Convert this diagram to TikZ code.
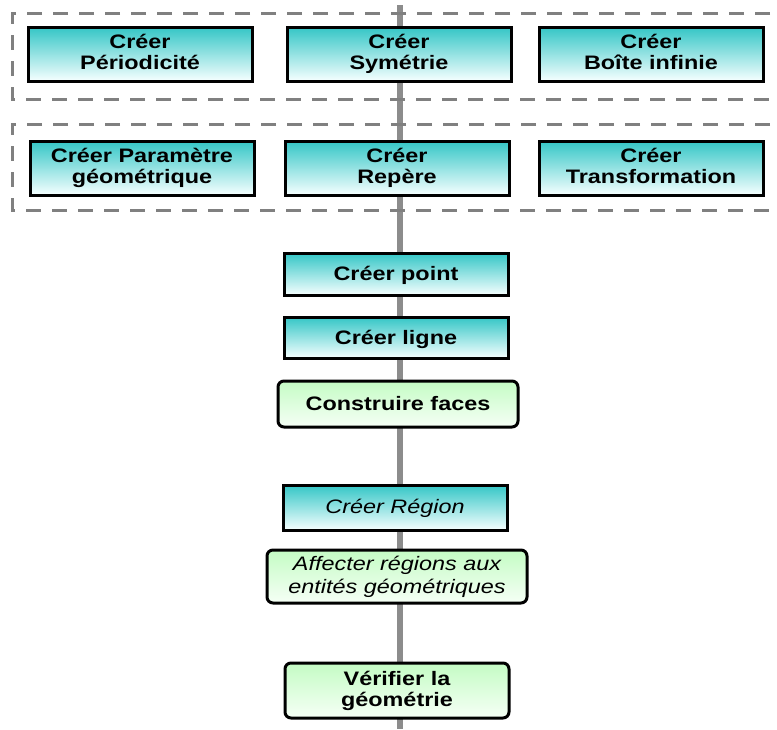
\documentclass[tikz,border=0pt]{standalone}
\usepackage{fontspec}
\setmainfont{Liberation Sans}[FakeStretch=1.2]
\begin{document}
\begin{tikzpicture}[x=1pt,y=-1pt,
  base/.style={draw=black,line width=3pt,align=center,inner sep=0pt,
    font=\fontsize{19.5}{21}\selectfont\bfseries,
    execute at begin node=\vphantom{É},execute at end node=\vphantom{gy}},
  tealbox/.style={base,rectangle,minimum width=224pt,minimum height=54pt,
    top color=tealtop,bottom color=tealbot},
  greenbox/.style={base,rectangle,rounded corners=6pt,
    top color=greentop,bottom color=greenbot},
  itext/.style={font=\fontsize{19.5}{23}\selectfont\mdseries\itshape},
  groupline/.style={draw=dashgray,line width=3pt,dash pattern=on 15pt off 11pt},
  spine/.style={draw=spinegray,line width=5.5pt}
]
\definecolor{tealtop}{HTML}{34C6C6}
\definecolor{tealbot}{HTML}{F6FFFF}
\definecolor{greentop}{HTML}{C4FCC4}
\definecolor{greenbot}{HTML}{F6FFF6}
\definecolor{dashgray}{HTML}{808080}
\definecolor{spinegray}{HTML}{8C8C8C}
\useasboundingbox (0,0) rectangle (777,729);

% spine
\coordinate (stop) at (400,5);
\coordinate (sbot) at (400,729);
\draw[spine] (stop) -- (sbot);

% dashed groups
\draw[groupline] (770,13) -- (12,13) -- (12,99) -- (770,99);
\draw[groupline] (770,124) -- (12,124) -- (12,210) -- (770,210);

% row 1
\node[tealbox] (per) at (140,54) {Créer\\Périodicité};
\node[tealbox] (sym) at (399,54) {Créer\\Symétrie};
\node[tealbox] (boi) at (651,54) {Créer\\Boîte infinie};
% row 2
\node[tealbox] (par) at (142,168) {Créer Paramètre\\géométrique};
\node[tealbox] (rep) at (397,168) {Créer\\Repère};
\node[tealbox] (tra) at (651,168) {Créer\\Transformation};

% chain
\node[tealbox,minimum height=42pt] (pt) at (396,274) {Créer point};
\node[tealbox,minimum height=41pt] (li) at (396,337.5) {Créer ligne};
\node[greenbox,minimum width=240pt,minimum height=46pt] (cf) at (398,404) {Construire faces};
\node[tealbox,minimum height=45pt,itext] (cr) at (395,507.5) {Créer Région};
\node[greenbox,minimum width=260pt,minimum height=53pt,itext] (ar) at (397,576.5) {Affecter régions aux\\entités géométriques};
\node[greenbox,minimum width=224pt,minimum height=55pt] (vg) at (397,690.5) {Vérifier la\\géométrie};
\end{tikzpicture}
\end{document}
